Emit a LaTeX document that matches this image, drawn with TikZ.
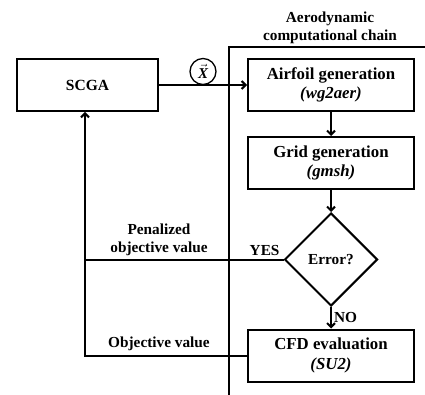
\documentclass[tikz,border=0pt]{standalone}
\usepackage{fontspec}
\setmainfont{Liberation Serif}
\usetikzlibrary{shapes.geometric,arrows.meta}

\begin{document}
\begin{tikzpicture}[x=1pt,y=-1pt,line width=2pt,
    font=\fontsize{15.3}{18}\selectfont\bfseries,
    block/.style={draw,rectangle,minimum width=166pt,minimum height=52pt,inner sep=0pt,align=center,
        font=\fontsize{16.8}{19.5}\selectfont\bfseries},
    decision/.style={draw,diamond,minimum width=93pt,minimum height=93pt,inner sep=0pt},
    flow/.style={-{Straight Barb[length=4pt,width=8pt]}}]
    \useasboundingbox (0,0) rectangle (425,395);
    % chain frame
    \draw (229,400)--(229,47)--(430,47);
    \node[align=center] (title) at (330,28) {Aerodynamic\\computational chain};
    \node[block,minimum width=141pt,font=\fontsize{15.5}{18}\selectfont\bfseries] (scga) at (87.5,85) {SCGA};
    \node[block] (airfoil) at (331,85) {Airfoil generation\\\textit{(wg2aer)}};
    \node[block] (grid) at (331,163) {Grid generation\\\textit{(gmsh)}};
    \node[decision] (err) at (331,259.5) {Error?};
    \node[block] (cfd) at (331,355.5) {CFD evaluation\\\textit{(SU2)}};
    \node[draw,circle,minimum size=26pt,inner sep=0pt,line width=1.3pt] (xvec) at (203,71.5)
        {$\vec{\mbox{\fontsize{15}{15}\selectfont\bfseries\itshape X}}$};
    \coordinate (back) at ([xshift=-2.5pt]scga.south);
    \draw[flow] (scga.east)--(airfoil.west);
    \draw[flow] (airfoil)--(grid);
    \draw[flow] (grid)--(err);
    \draw[flow] (err)--node[right,inner sep=2pt]{NO}(cfd);
    \draw (err.west)--(err.west -| back);
    \draw[flow] (cfd.west) -| (back);
    \node[anchor=south east,inner sep=3pt] (yes) at (err.west) {YES};
    \node[align=center,anchor=south,inner sep=3pt] (pen) at (159,260) {Penalized\\objective value};
    \node[anchor=south,inner sep=3pt] (obj) at (159,355) {Objective value};
\end{tikzpicture}
\end{document}
